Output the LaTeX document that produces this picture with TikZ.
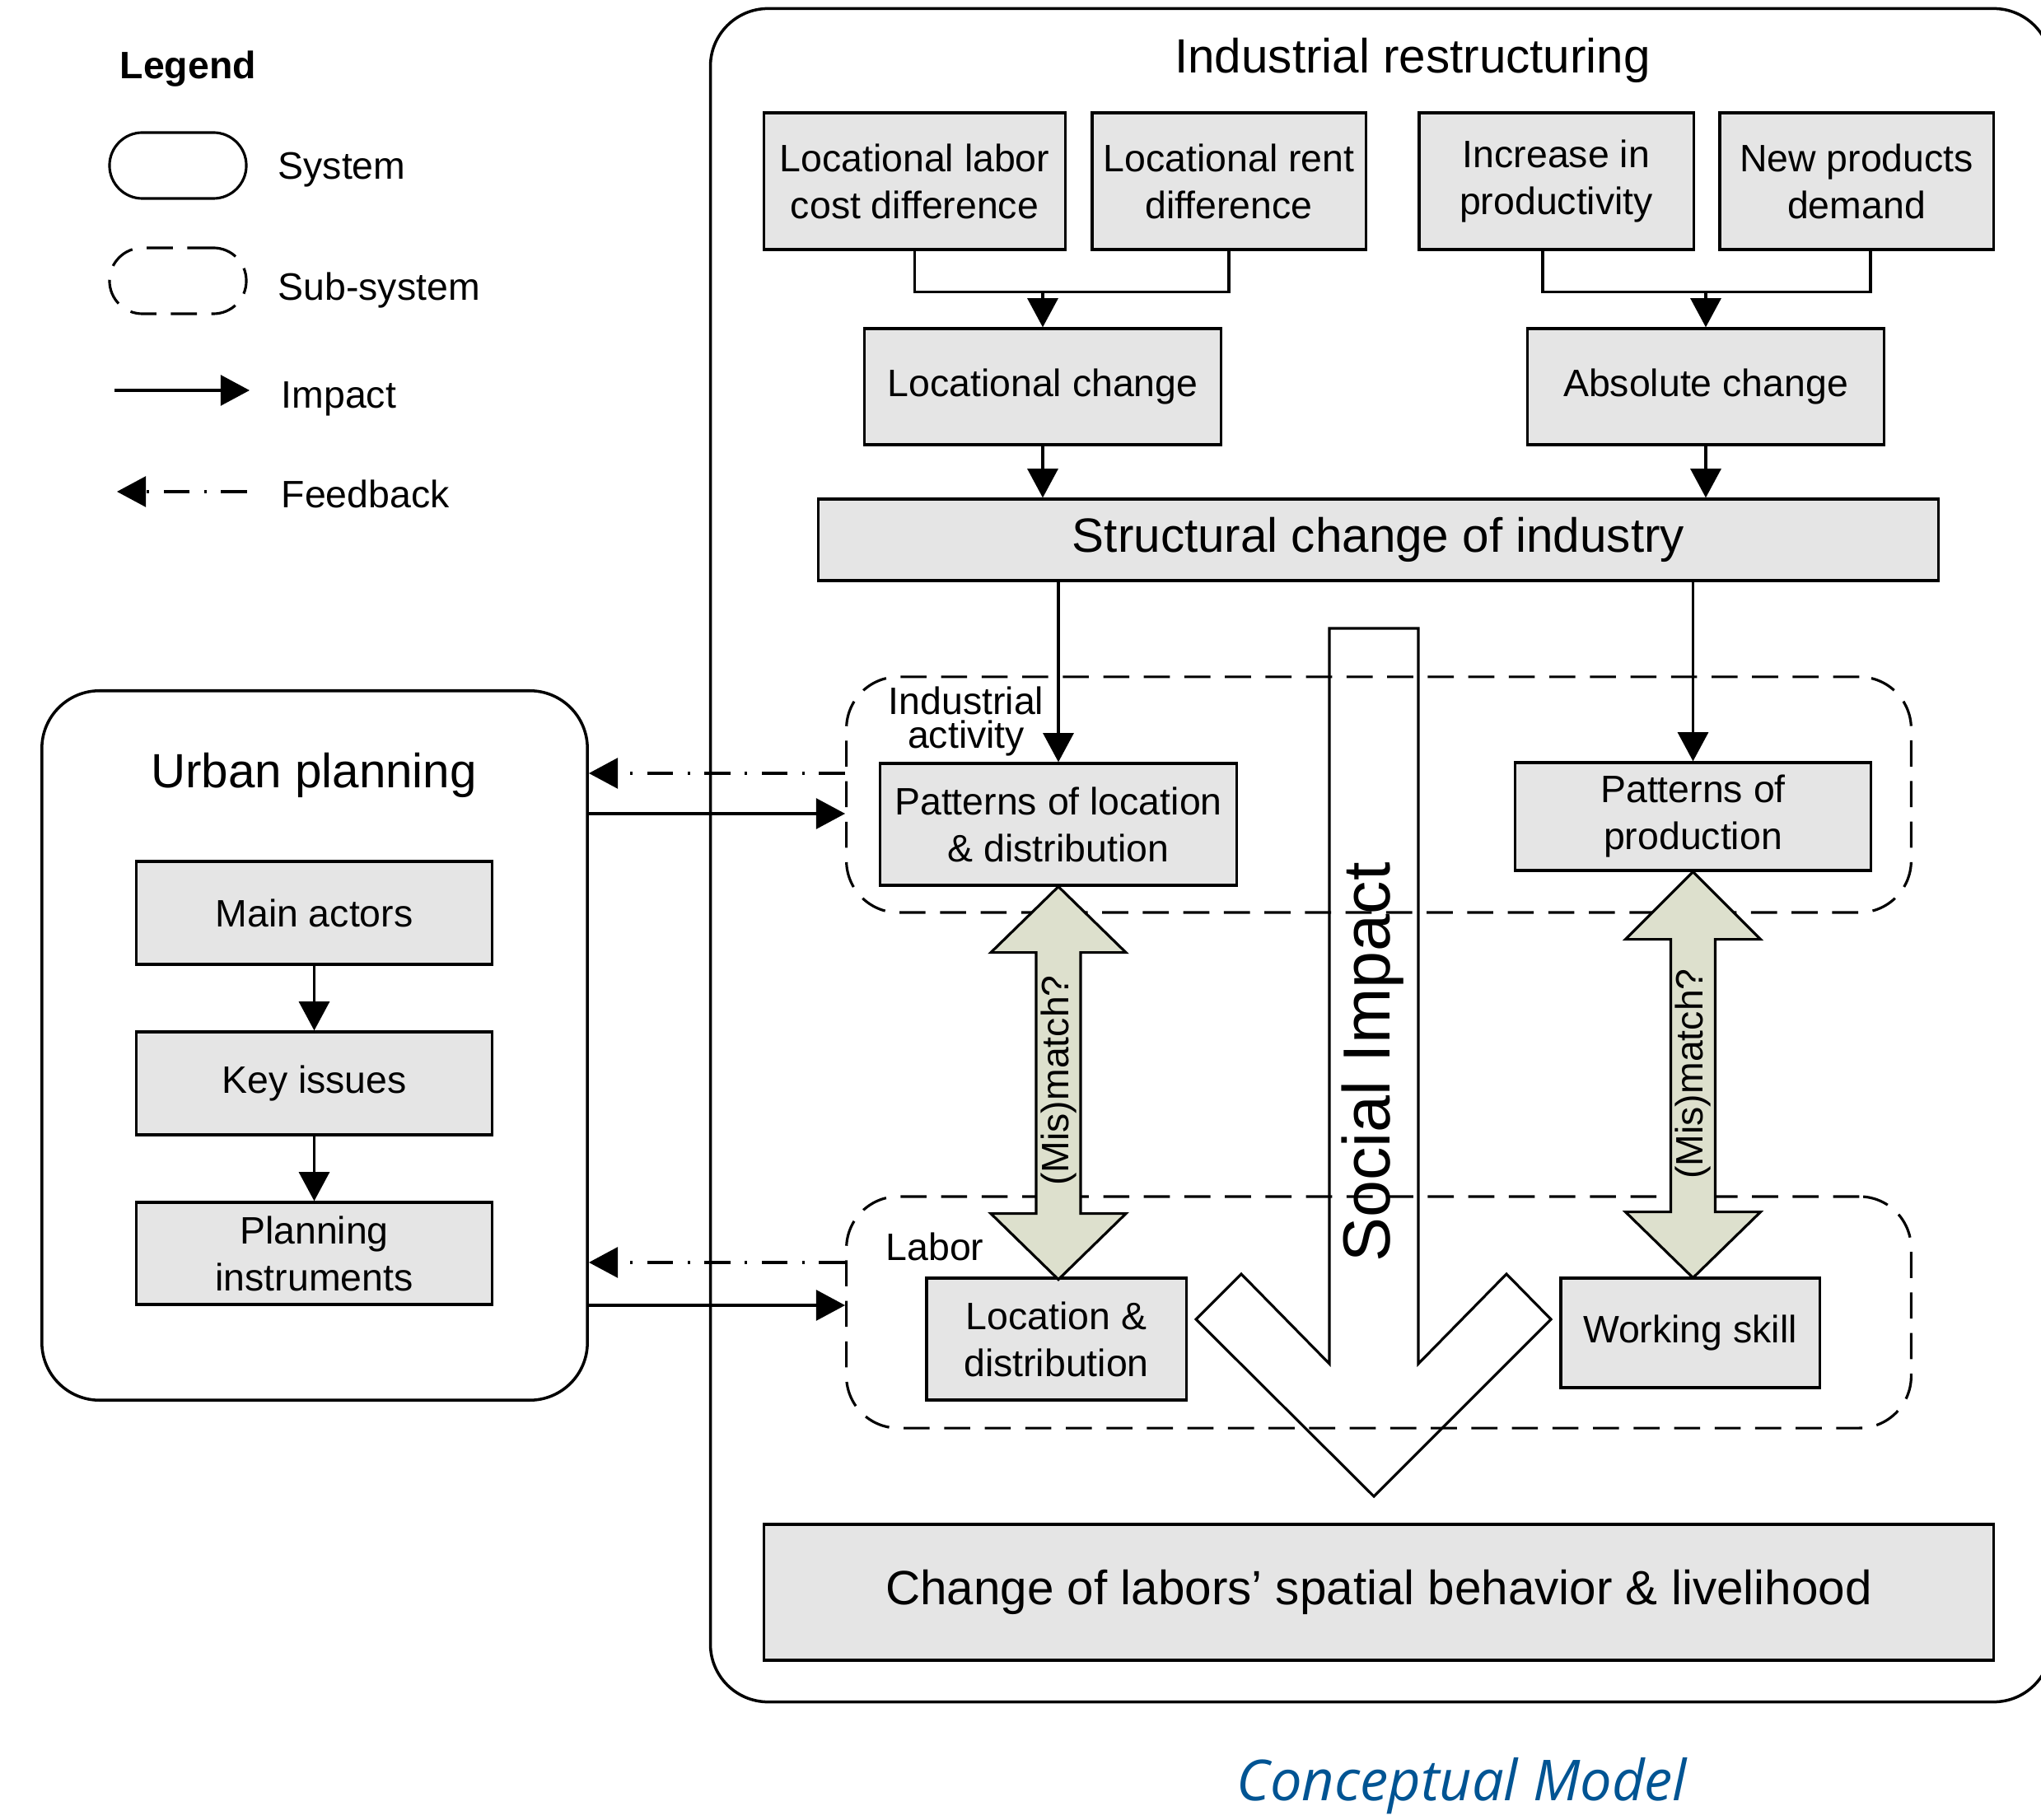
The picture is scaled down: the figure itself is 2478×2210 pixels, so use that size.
\documentclass[tikz,border=0pt]{standalone}
\usepackage{fontspec}
\setmainfont{Liberation Sans}
\newfontfamily\capfont{Open Sans}
\usetikzlibrary{arrows.meta}
\definecolor{boxgray}{RGB}{229,229,229}
\definecolor{arrowfill}{RGB}{221,224,205}
\definecolor{capblue}{RGB}{0,84,147}
\newcommand\fsnorm{\fontsize{13.2pt}{16.2pt}\selectfont}
\newcommand\fsbig{\fontsize{16.6pt}{20pt}\selectfont}
\begin{document}
\begin{tikzpicture}[
  x=0.01cm, y=-0.01cm,
  sysbox/.style={draw, line width=1pt, rounded corners=0.7cm, inner sep=0pt},
  subsys/.style={draw, line width=0.9pt, rounded corners=0.63cm, dash pattern=on 9pt off 5pt, inner sep=0pt},
  grbox/.style={draw, fill=boxgray, line width=0.9pt, align=center, inner sep=0pt, font=\fsnorm},
  ln/.style={line width=0.9pt},
  imp/.style={line width=0.9pt, -{Triangle[length=10pt,width=10.5pt]}},
  fb/.style={line width=0.9pt, dash pattern=on 9pt off 5pt on 0.8pt off 5pt, -{Triangle[length=10pt,width=10.5pt]}},
  dbl/.style={draw, line width=0.9pt, fill=arrowfill, line join=miter},
  lbl/.style={inner sep=0pt, font=\fsnorm},
]
\useasboundingbox (0,0) rectangle (2478,2210);

% ---------- Legend ----------
\node[lbl, font=\bfseries\fsnorm, anchor=base west] (legtitle) at (145,96) {Legend};
\node[draw, line width=0.9pt, rounded corners=0.4cm, minimum width=1.66cm, minimum height=0.8cm] (legsys) at (216,201) {};
\node[lbl, anchor=base west] (legsystxt) at (337,218) {System};
\node[draw, line width=0.9pt, dash pattern=on 9pt off 5pt, rounded corners=0.4cm, minimum width=1.66cm, minimum height=0.8cm] (legsub) at (216,341) {};
\node[lbl, anchor=base west] (legsubtxt) at (337,365) {Sub-system};
\coordinate (li1) at (139,474);
\coordinate (li2) at (303,474);
\draw[imp] (li1) -- (li2);
\node[lbl, anchor=base west] (legimptxt) at (341,496) {Impact};
\coordinate (lf1) at (300,597);
\coordinate (lf2) at (142,597);
\draw[fb] (lf1) -- (lf2);
\node[lbl, anchor=base west] (legfbtxt) at (341,617) {Feedback};

% ---------- Systems ----------
\node[sysbox, minimum width=6.62cm, minimum height=8.61cm] (urban) at (382,1269.5) {};
\node[lbl, font=\fsbig, anchor=base] (urbtitle) at (381,957) {Urban planning};
\node[sysbox, minimum width=16.27cm, minimum height=20.55cm] (indsys) at (1676.5,1038.5) {};
\node[lbl, font=\fsbig, anchor=base] (indtitle) at (1715,89) {Industrial restructuring};

% ---------- Sub-systems ----------
\node[subsys, minimum width=12.92cm, minimum height=2.86cm] (ind) at (1674,965) {};
\node[subsys, minimum width=12.92cm, minimum height=2.81cm] (labor) at (1674,1593.5) {};
\node[lbl, font=\fontsize{13.2pt}{11.8pt}\selectfont, align=center] (indlbl) at (1173,876) {Industrial\\activity};
\node[lbl, anchor=base] (laborlbl) at (1135,1530) {Labor};

% ---------- Social impact arrow ----------
\draw[ln, line join=miter] (1614,763) -- (1722,763) -- (1722,1656) -- (1829,1547) -- (1883,1602)
  -- (1668,1817) -- (1452,1602) -- (1507,1547) -- (1614,1656) -- cycle;
\node[lbl, rotate=90, font=\fontsize{23pt}{27pt}\selectfont] (social) at (1667,1290) {Social Impact};

% ---------- Boxes ----------
\node[grbox, minimum width=3.65cm, minimum height=1.66cm] (lab) at (1110.5,220) {Locational labor\\cost difference};
\node[grbox, minimum width=3.32cm, minimum height=1.66cm] (rent) at (1492,220) {Locational rent\\difference};
\node[grbox, minimum width=3.33cm, minimum height=1.66cm] (incr) at (1889.5,220) {Increase in\\productivity};
\node[grbox, minimum width=3.32cm, minimum height=1.66cm] (newp) at (2254,220) {New products\\demand};
\node[grbox, minimum width=4.32cm, minimum height=1.41cm] (loc) at (1266,469.5) {Locational change};
\node[grbox, minimum width=4.32cm, minimum height=1.41cm] (abs) at (2071,469.5) {Absolute change};
\node[grbox, minimum width=13.59cm, minimum height=0.99cm, font=\fsbig] (struct) at (1673.5,655.5) {Structural change of industry};
\node[grbox, minimum width=4.32cm, minimum height=1.48cm] (patloc) at (1285,1001) {Patterns of location\\\& distribution};
\node[grbox, minimum width=4.31cm, minimum height=1.31cm] (patprod) at (2055.5,991.5) {Patterns of\\production};
\node[grbox, minimum width=3.15cm, minimum height=1.48cm] (locd) at (1282.5,1626) {Location \&\\distribution};
\node[grbox, minimum width=3.14cm, minimum height=1.33cm] (skill) at (2052,1618.5) {Working skill};
\node[grbox, minimum width=14.92cm, minimum height=1.65cm, font=\fsbig] (change) at (1674,1933.5) {Change of labors’ spatial behavior \& livelihood};

\node[grbox, minimum width=4.31cm, minimum height=1.25cm] (actors) at (381.5,1108.5) {Main actors};
\node[grbox, minimum width=4.31cm, minimum height=1.25cm] (keyiss) at (381.5,1315.5) {Key issues};
\node[grbox, minimum width=4.31cm, minimum height=1.24cm] (instr) at (381.5,1522) {Planning\\instruments};

% ---------- Connectors ----------
\draw[ln] (lab.south) -- ++(0,50) -| (rent.south);
\coordinate (jl) at (1266,353);
\draw[imp] (jl) -- (loc.north);
\draw[ln] ([xshift=-0.165cm]incr.south) -- ++(0,50) -| ([xshift=0.17cm]newp.south);
\draw[imp] (abs.north |- jl) -- (abs.north);
\draw[imp] (loc.south) -- (struct.north -| loc.south);
\draw[imp] (abs.south) -- (struct.north -| abs.south);
\draw[imp] (struct.south -| patloc.north) -- (patloc.north);
\draw[imp] (struct.south -| patprod.north) -- (patprod.north);
\draw[imp] (actors.south) -- (keyiss.north);
\draw[imp] (keyiss.south) -- (instr.north);

\draw[fb] ([yshift=0.26cm]ind.west) -- ([yshift=0.26cm]ind.west -| urban.east);
\draw[imp] ([yshift=-0.23cm]ind.west -| urban.east) -- ([yshift=-0.23cm]ind.west);
\draw[fb] ([yshift=0.605cm]labor.west) -- ([yshift=0.605cm]labor.west -| urban.east);
\draw[imp] ([yshift=0.085cm]labor.west -| urban.east) -- ([yshift=0.085cm]labor.west);

% ---------- (Mis)match double arrows ----------
\path[dbl] (patloc.south) -- ++(82,80) -- ++(-55,0) -- ++(0,317) -- ++(55,0) -- ++(-82,80)
  -- ++(-82,-80) -- ++(55,0) -- ++(0,-317) -- ++(-55,0) -- cycle;
\node[lbl, rotate=90] (mm1) at (1285,1312) {(Mis)match?};
\path[dbl] (patprod.south) -- ++(82,82) -- ++(-55,0) -- ++(0,331) -- ++(55,0) -- ++(-82,80)
  -- ++(-82,-80) -- ++(55,0) -- ++(0,-331) -- ++(-55,0) -- cycle;
\node[lbl, rotate=90] (mm2) at (2055,1304) {(Mis)match?};

% ---------- Caption ----------
\node[inner sep=0pt, font=\capfont\itshape\fontsize{19.5pt}{24pt}\selectfont, text=capblue, anchor=base] (caption) at (1775,2186) {Conceptual Model};
\end{tikzpicture}
\end{document}
